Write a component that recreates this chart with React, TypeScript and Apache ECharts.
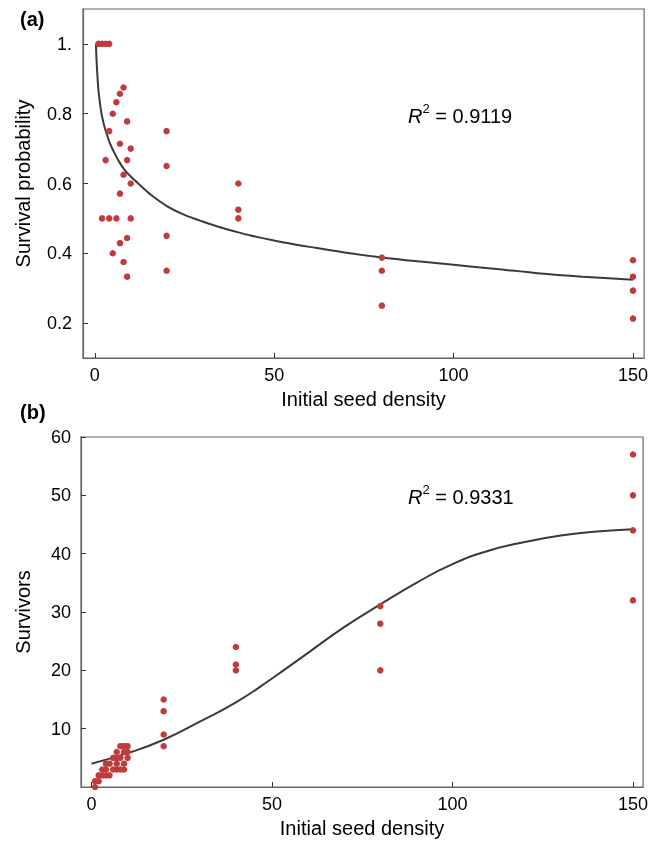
import React, { useEffect, useRef } from "react";
import * as echarts from "echarts";

// ---------- data ----------
const xTicks = [0, 50, 100, 150];
const probTicks = [0.2, 0.4, 0.6, 0.8, 1.0];
const survTicks = [10, 20, 30, 40, 50, 60];

// (a) survival probability observations: [density, probability]
const probDensity = [
  1, 2, 2, 3, 3, 4, 4, 4, 5, 5, 6, 6,
  7, 7, 7, 7, 8, 8, 8, 9, 9, 9, 9, 10, 10, 10,
  20, 20, 20, 20, 40, 40, 40, 80, 80, 80, 150, 150, 150, 150,
];
const probValue = [
  1.0, 1.0, 0.5, 1.0, 0.667, 1.0, 0.75, 0.5, 0.8, 0.4, 0.833, 0.5,
  0.857, 0.714, 0.571, 0.429, 0.875, 0.625, 0.375, 0.778, 0.667, 0.444, 0.333, 0.7, 0.6, 0.5,
  0.75, 0.65, 0.45, 0.35, 0.6, 0.525, 0.5, 0.3875, 0.35, 0.25, 0.38, 0.333, 0.293, 0.213,
];

// (a) fitted curve
const probFitX = [0.3, 0.45, 0.65, 0.92, 1.3, 1.85, 2.5, 3.24, 4.3, 5.5, 6.8, 8.3, 10, 12, 15.7, 20.3, 25, 30, 34.2, 40, 43.4, 52.7, 61.9, 71.1, 80, 90, 100, 112, 123.4, 136, 150];
const probFitY = [1.0, 0.96, 0.92, 0.878, 0.84, 0.801, 0.77, 0.744, 0.713, 0.687, 0.662, 0.639, 0.62, 0.601, 0.567, 0.534, 0.51, 0.491, 0.477, 0.46, 0.451, 0.431, 0.415, 0.4, 0.388, 0.377, 0.367, 0.355, 0.343, 0.333, 0.324];

// (b) survivors observations: [density, survivors]
const survDensity = [
  1, 1, 2, 2, 3, 3, 4, 4, 4, 5, 5, 6, 6,
  7, 7, 7, 7, 8, 8, 8, 9, 9, 9, 9, 10, 10, 10,
  20, 20, 20, 20, 40, 40, 40, 80, 80, 80, 150, 150, 150, 150,
];
const survValue = [
  1, 0, 2, 1, 3, 2, 4, 3, 2, 4, 2, 5, 3,
  6, 5, 4, 3, 7, 5, 3, 7, 6, 4, 3, 7, 6, 5,
  15, 13, 9, 7, 24, 21, 20, 31, 28, 20, 57, 50, 44, 32,
];

// (b) fitted curve
const survFitX = [0, 10, 20, 30, 40, 50, 60, 70, 80, 90, 100, 110, 120, 130, 140, 150];
const survFitY = [4.0, 5.8, 8.1, 11.2, 14.5, 18.6, 23.0, 27.4, 31.3, 35.0, 38.2, 40.5, 42.0, 43.1, 43.8, 44.2];

const r2a = "0.9119";
const r2b = "0.9331";

const FONT = "'Liberation Sans', Arial, Helvetica, sans-serif";
const DOT = "#c23b3c";
const CURVE = "#3a3a3a";
const FRAME = "#666666";

function zip(xs: number[], ys: number[]) {
  return xs.map((x, i) => [x, ys[i]]);
}

function xAxisDef(grid: number, min: number, max: number) {
  return {
    gridIndex: grid,
    type: "value",
    min,
    max,
    name: "Initial seed density",
    nameLocation: "middle",
    nameGap: 31,
    nameTextStyle: { fontSize: 20, color: "#000", fontFamily: FONT },
    axisLine: { show: true, onZero: false, lineStyle: { color: FRAME, width: 1.2 } },
    axisTick: { show: true, inside: true, length: 5, customValues: xTicks, lineStyle: { color: "#333" } },
    axisLabel: { customValues: xTicks, fontSize: 18, color: "#000", fontFamily: FONT, margin: 8 },
    splitLine: { show: false },
  };
}

export default function App() {
  const ref = useRef<HTMLDivElement>(null);
  useEffect(() => {
    if (!ref.current) return;
    const chart = echarts.init(ref.current, null, { renderer: "svg" });
    const richR = (v: string) => ({
      text: "{i|R}{s|2}{n| = " + v + "}",
      rich: {
        i: { fontStyle: "italic", fontSize: 20, fontFamily: FONT, fill: "#000", lineHeight: 24, verticalAlign: "bottom" },
        s: { fontSize: 13, fontFamily: FONT, fill: "#000", lineHeight: 24, verticalAlign: "top" },
        n: { fontSize: 20, fontFamily: FONT, fill: "#000", lineHeight: 24, verticalAlign: "bottom" },
      },
    });
    chart.setOption({
      animation: false,
      grid: [
        { left: 83, top: 9, width: 564, height: 349, show: true, borderColor: FRAME, borderWidth: 1.2 },
        { left: 81, top: 437, width: 565, height: 350, show: true, borderColor: FRAME, borderWidth: 1.2 },
      ],
      xAxis: [xAxisDef(0, -3.3, 153.1), xAxisDef(1, -2.9, 152.8)],
      yAxis: [
        {
          gridIndex: 0,
          type: "value",
          min: 0.1,
          max: 1.1,
          name: "Survival probability",
          nameLocation: "middle",
          nameGap: 50,
          nameTextStyle: { fontSize: 20, color: "#000", fontFamily: FONT },
          axisLine: { show: true, onZero: false, lineStyle: { color: FRAME, width: 1.2 } },
          axisTick: { show: true, inside: true, length: 5, customValues: probTicks, lineStyle: { color: "#333" } },
          axisLabel: {
            customValues: probTicks,
            fontSize: 18,
            color: "#000",
            fontFamily: FONT,
            margin: 11,
            formatter: (v: number) => (Math.abs(v - 1) < 1e-9 ? "1." : v.toFixed(1)),
          },
          splitLine: { show: false },
        },
        {
          gridIndex: 1,
          type: "value",
          min: 0,
          max: 60,
          name: "Survivors",
          nameLocation: "middle",
          nameGap: 48,
          nameTextStyle: { fontSize: 20, color: "#000", fontFamily: FONT },
          axisLine: { show: true, onZero: false, lineStyle: { color: FRAME, width: 1.2 } },
          axisTick: { show: true, inside: true, length: 5, customValues: survTicks, lineStyle: { color: "#333" } },
          axisLabel: { customValues: survTicks, fontSize: 18, color: "#000", fontFamily: FONT, margin: 10 },
          splitLine: { show: false },
        },
      ],
      series: [
        {
          type: "line",
          xAxisIndex: 0,
          yAxisIndex: 0,
          data: zip(probFitX, probFitY),
          showSymbol: false,
          smooth: 0.3,
          lineStyle: { color: CURVE, width: 2 },
          z: 2,
        },
        {
          type: "scatter",
          xAxisIndex: 0,
          yAxisIndex: 0,
          data: zip(probDensity, probValue),
          symbolSize: 6.5,
          itemStyle: { color: DOT, opacity: 1 },
          z: 3,
        },
        {
          type: "line",
          xAxisIndex: 1,
          yAxisIndex: 1,
          data: zip(survFitX, survFitY),
          showSymbol: false,
          smooth: 0.5,
          lineStyle: { color: CURVE, width: 2 },
          z: 2,
        },
        {
          type: "scatter",
          xAxisIndex: 1,
          yAxisIndex: 1,
          data: zip(survDensity, survValue),
          symbolSize: 6.5,
          itemStyle: { color: DOT, opacity: 1 },
          z: 3,
        },
      ],
      graphic: [
        { type: "text", left: 20, top: 9, style: { text: "(a)", fontSize: 20, fontWeight: "bold", fontFamily: FONT, fill: "#000" } },
        { type: "text", left: 20, top: 402, style: { text: "(b)", fontSize: 20, fontWeight: "bold", fontFamily: FONT, fill: "#000" } },
        { type: "text", left: 408, top: 102, style: richR(r2a) },
        { type: "text", left: 408, top: 483, style: richR(r2b) },
      ],
    });
    return () => chart.dispose();
  }, []);
  return <div ref={ref} style={{ position: "fixed", left: 0, top: 0, width: 651, height: 843 }} />;
}
